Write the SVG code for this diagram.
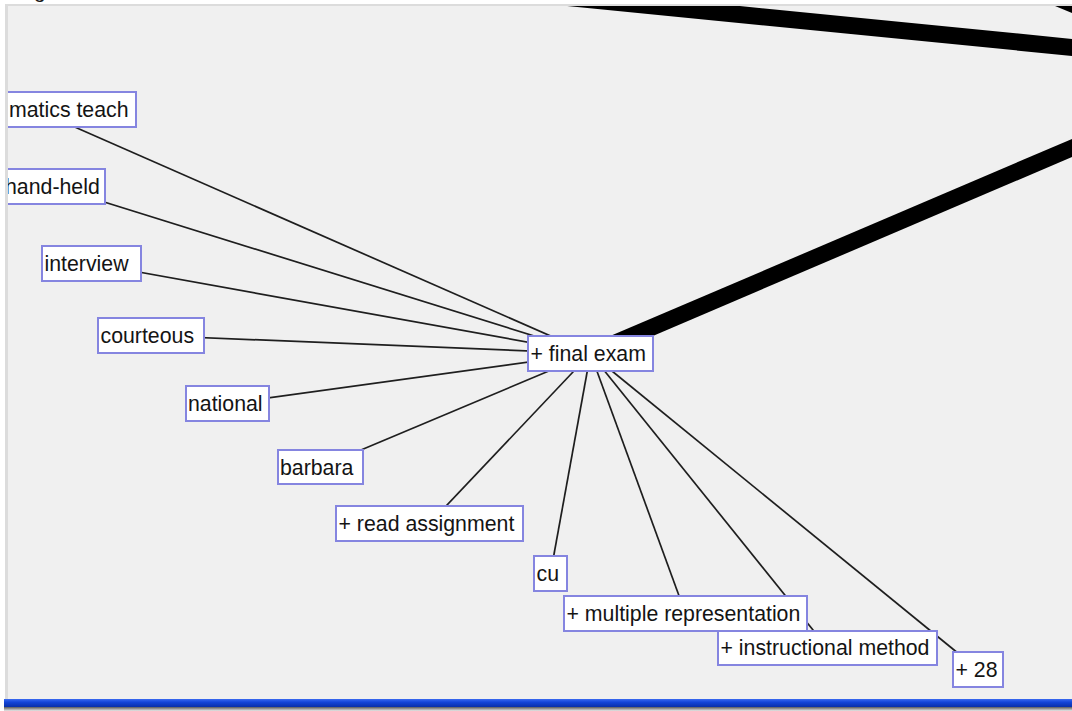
<svg xmlns="http://www.w3.org/2000/svg" width="1072" height="711" viewBox="0 0 1072 711">
  <defs>
    <style>
      .node rect { fill: #ffffff; stroke: #8585e0; stroke-width: 2; }
      .node text { font-family: "Liberation Sans", Arial, sans-serif; font-size: 21.3px; fill: #141414; }
      .edge { stroke: #1e1e1e; stroke-width: 1.7; fill: none; }
      .thick { stroke: #000000; fill: none; stroke-linecap: butt; }
    </style>
    <clipPath id="panelClip">
      <rect x="8" y="6" width="1064" height="693"/>
    </clipPath>
    <linearGradient id="blueBar" x1="0" y1="0" x2="0" y2="1">
      <stop offset="0" stop-color="#3a6af0"/>
      <stop offset="0.4" stop-color="#1445d8"/>
      <stop offset="1" stop-color="#0a2fa8"/>
    </linearGradient>
    <linearGradient id="shadow" x1="0" y1="0" x2="0" y2="1">
      <stop offset="0" stop-color="#5a5a5a"/>
      <stop offset="1" stop-color="#e8e8e8"/>
    </linearGradient>
  </defs>

  <rect x="0" y="0" width="1072" height="711" fill="#ffffff"/>
  <text x="34" y="-2.5" font-family="Liberation Sans, Arial, sans-serif" font-size="21" fill="#1a1a1a">g</text>

  <!-- panel -->
  <rect x="5" y="4" width="1067" height="695" fill="#dcdcdc"/>
  <rect x="8" y="6" width="1064" height="693" fill="#f0f0f0"/>

  <g clip-path="url(#panelClip)">
    <g id="connectors">
      <line class="thick" x1="500" y1="-9.2" x2="1100" y2="50.2" stroke-width="17"/>
      <line class="thick" x1="1030" y1="-13.5" x2="1100" y2="15.3" stroke-width="17"/>
      <line class="thick" x1="590.5" y1="353.5" x2="1100" y2="136" stroke-width="16.6"/>
      <line class="edge" x1="590.5" y1="353.5" x2="36" y2="110"/>
      <line class="edge" x1="590.5" y1="353.5" x2="54.5" y2="186.5"/>
      <line class="edge" x1="590.5" y1="353.5" x2="91.5" y2="263.5"/>
      <line class="edge" x1="590.5" y1="353.5" x2="151" y2="335.5"/>
      <line class="edge" x1="590.5" y1="353.5" x2="227.5" y2="403.5"/>
      <line class="edge" x1="590.5" y1="353.5" x2="320.5" y2="467"/>
      <line class="edge" x1="590.5" y1="353.5" x2="429.5" y2="523.5"/>
      <line class="edge" x1="590.5" y1="353.5" x2="550.5" y2="573.5"/>
      <line class="edge" x1="590.5" y1="353.5" x2="685.5" y2="613.5"/>
      <line class="edge" x1="590.5" y1="353.5" x2="827.5" y2="648"/>
      <line class="edge" x1="590.5" y1="353.5" x2="978" y2="669.5"/>
    </g>

    <g id="node-matics-teach" class="node">
      <rect x="-60" y="92" width="196" height="35"/>
      <text x="9" y="116.5">matics teach</text>
    </g>
    <g id="node-hand-held" class="node">
      <rect x="4" y="169" width="101" height="35"/>
      <text x="5" y="193.5">hand-held</text>
    </g>
    <g id="node-interview" class="node">
      <rect x="42" y="246" width="99" height="35"/>
      <text x="44.5" y="271">interview</text>
    </g>
    <g id="node-courteous" class="node">
      <rect x="98" y="318" width="106" height="35"/>
      <text x="100.5" y="342.5">courteous</text>
    </g>
    <g id="node-national" class="node">
      <rect x="186" y="386" width="83" height="35"/>
      <text x="188" y="410.5">national</text>
    </g>
    <g id="node-barbara" class="node">
      <rect x="278" y="450" width="85" height="34"/>
      <text x="280" y="474.5">barbara</text>
    </g>
    <g id="node-read-assignment" class="node">
      <rect x="336" y="506" width="187" height="35"/>
      <text x="338.5" y="530.5">+ read assignment</text>
    </g>
    <g id="node-cu" class="node">
      <rect x="534" y="556" width="33" height="35"/>
      <text x="536.5" y="580.5">cu</text>
    </g>
    <g id="node-multiple-representation" class="node">
      <rect x="564" y="596" width="243" height="35"/>
      <text x="566.5" y="620.5">+ multiple representation</text>
    </g>
    <g id="node-instructional-method" class="node">
      <rect x="718" y="631" width="219" height="34"/>
      <text x="720.5" y="655">+ instructional method</text>
    </g>
    <g id="node-28" class="node">
      <rect x="953" y="652" width="50" height="35"/>
      <text x="955.5" y="676.5">+ 28</text>
    </g>
    <g id="node-final-exam" class="node">
      <rect x="528" y="336" width="125" height="35"/>
      <text x="530.5" y="360.5">+ final exam</text>
    </g>
  </g>

  <!-- bottom bar -->
  <rect x="4" y="699" width="1068" height="8" fill="url(#blueBar)"/>
  <rect x="4" y="707" width="1068" height="4" fill="url(#shadow)"/>
</svg>
